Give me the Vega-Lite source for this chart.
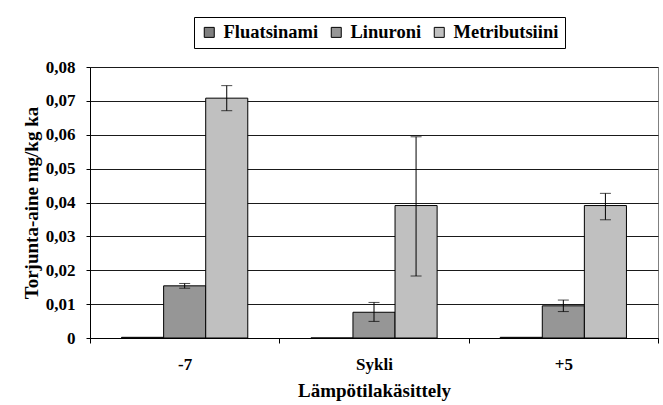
{
  "$schema": "https://vega.github.io/schema/vega-lite/v6.json",
  "width": 568,
  "height": 271,
  "autosize": {"type": "none"},
  "padding": {"left": 90, "top": 67, "right": 5, "bottom": 67},
  "background": "white",
  "config": {
    "font": "Liberation Serif",
    "view": {"stroke": "#808080", "strokeWidth": 1},
    "axis": {
      "labelFont": "Liberation Serif",
      "titleFont": "Liberation Serif",
      "labelFontWeight": "bold",
      "titleFontWeight": "bold",
      "labelColor": "black",
      "titleColor": "black",
      "labelFontSize": 17,
      "titleFontSize": 19,
      "domainColor": "black",
      "tickColor": "black",
      "labelOverlap": false
    },
    "axisY": {
      "values": [0, 0.01, 0.02, 0.03, 0.04, 0.05, 0.06, 0.07, 0.08],
      "tickCount": 8,
      "labelExpr": "datum.value == 0 ? '0' : replace(format(datum.value, '.2f'), '.', ',')",
      "grid": true,
      "gridColor": "#1a1a1a",
      "gridOpacity": 1,
      "tickSize": 4,
      "labelPadding": 11,
      "titlePadding": 4
    },
    "legend": {
      "labelFont": "Liberation Serif",
      "labelFontWeight": "bold",
      "labelFontSize": 18.5,
      "labelColor": "black"
    }
  },
  "data": {
    "values": [
      {"kasittely": "-7", "aine": "Fluatsinami", "arvo": 0.0002, "ala": null, "yla": null},
      {"kasittely": "-7", "aine": "Linuroni", "arvo": 0.0154, "ala": 0.0147, "yla": 0.0161},
      {"kasittely": "-7", "aine": "Metributsiini", "arvo": 0.0708, "ala": 0.0671, "yla": 0.0745},
      {"kasittely": "Sykli", "aine": "Fluatsinami", "arvo": 0, "ala": null, "yla": null},
      {"kasittely": "Sykli", "aine": "Linuroni", "arvo": 0.0076, "ala": 0.0049, "yla": 0.0105},
      {"kasittely": "Sykli", "aine": "Metributsiini", "arvo": 0.0391, "ala": 0.0183, "yla": 0.0594},
      {"kasittely": "+5", "aine": "Fluatsinami", "arvo": 0.0002, "ala": null, "yla": null},
      {"kasittely": "+5", "aine": "Linuroni", "arvo": 0.0095, "ala": 0.0078, "yla": 0.0112},
      {"kasittely": "+5", "aine": "Metributsiini", "arvo": 0.0391, "ala": 0.0349, "yla": 0.0427}
    ]
  },
  "encoding": {
    "x": {
      "field": "kasittely",
      "type": "nominal",
      "sort": ["-7", "Sykli", "+5"],
      "scale": {"paddingInner": 0, "paddingOuter": 0},
      "axis": {
        "title": "Lämpötilakäsittely",
        "labelAngle": 0,
        "tickBand": "extent",
        "tickSize": 5,
        "labelPadding": 13,
        "titlePadding": 9
      }
    },
    "xOffset": {
      "field": "aine",
      "type": "nominal",
      "sort": ["Fluatsinami", "Linuroni", "Metributsiini"],
      "scale": {"paddingInner": 0, "paddingOuter": 0.75}
    }
  },
  "layer": [
    {
      "mark": {"type": "bar", "stroke": "black", "strokeWidth": 1},
      "encoding": {
        "y": {
          "field": "arvo",
          "type": "quantitative",
          "scale": {"domain": [0, 0.08], "nice": false},
          "axis": {"title": "Torjunta-aine mg/kg ka"}
        },
        "fill": {
          "field": "aine",
          "type": "nominal",
          "sort": ["Fluatsinami", "Linuroni", "Metributsiini"],
          "scale": {
            "domain": ["Fluatsinami", "Linuroni", "Metributsiini"],
            "range": ["#7f7f7f", "#969696", "#c0c0c0"]
          },
          "legend": {
            "title": null,
            "orient": "none",
            "direction": "horizontal",
            "legendX": 104,
            "legendY": -50,
            "symbolType": "square",
            "symbolSize": 100,
            "symbolStrokeColor": "black",
            "symbolStrokeWidth": 1,
            "symbolOpacity": 1,
            "labelOffset": 5,
            "columnPadding": 8,
            "padding": 6,
            "strokeColor": "black",
            "fillColor": "white"
          }
        }
      }
    },
    {
      "mark": {"type": "rule", "color": "black", "strokeWidth": 1},
      "encoding": {
        "y": {"field": "ala", "type": "quantitative", "axis": {"title": "Torjunta-aine mg/kg ka"}},
        "y2": {"field": "yla"}
      }
    },
    {
      "mark": {"type": "tick", "color": "black", "thickness": 1, "size": 11},
      "encoding": {
        "y": {"field": "ala", "type": "quantitative", "axis": {"title": "Torjunta-aine mg/kg ka"}}
      }
    },
    {
      "mark": {"type": "tick", "color": "black", "thickness": 1, "size": 11},
      "encoding": {
        "y": {"field": "yla", "type": "quantitative", "axis": {"title": "Torjunta-aine mg/kg ka"}}
      }
    }
  ]
}
